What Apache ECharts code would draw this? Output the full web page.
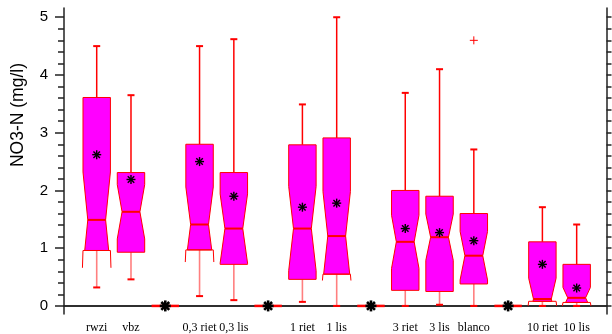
<!DOCTYPE html>
<html>
<head>
<meta charset="utf-8">
<script src="https://cdn.jsdelivr.net/npm/echarts@6/dist/echarts.min.js"></script>
<style>
  html, body { margin: 0; padding: 0; background: #fff; }
  #chart { width: 612px; height: 334px; }
</style>
</head>
<body>
<div id="chart"></div>
<script>
// Group names per slot (empty slots hold the all-zero groups)
const groupLabels = ['rwzi', 'vbz', '', '0,3 riet', '0,3 lis', '', '1 riet', '1 lis', '', '3 riet', '3 lis', 'blanco', '', '10 riet', '10 lis'];
// Box statistics, NO3-N in mg/l
const lowerWhisker = [0.32, 0.46, 0, 0.17, 0.10, 0, 0.07, 0.00, 0, 0.00, 0.02, 0.00, 0, 0.00, 0.00];
const quartile1    = [0.96, 0.93, 0, 0.97, 0.72, 0, 0.46, 0.55, 0, 0.27, 0.25, 0.38, 0, 0.08, 0.06];
const medians      = [1.49, 1.63, 0, 1.41, 1.34, 0, 1.34, 1.21, 0, 1.11, 1.19, 0.87, 0, 0.12, 0.14];
const quartile3    = [3.61, 2.31, 0, 2.80, 2.31, 0, 2.79, 2.91, 0, 2.00, 1.90, 1.60, 0, 1.11, 0.72];
const upperWhisker = [4.50, 3.65, 0, 4.50, 4.62, 0, 3.49, 5.00, 0, 3.69, 4.10, 2.71, 0, 1.71, 1.41];
const means        = [2.62, 2.19, 0, 2.50, 1.90, 0, 1.71, 1.78, 0, 1.34, 1.27, 1.13, 0, 0.72, 0.31];
const notchHalf    = [0.83, 0.47, 0, 0.65, 0.60, 0, 0.73, 0.77, 0, 0.46, 0.40, 0.42, 0, 0.36, 0.18];
// Outliers as [slot, value]
const outliers = [[12, 4.60]];

// Axis ticks
const yMajorTicks = [0, 1, 2, 3, 4, 5];
const yMinorTicks = [0.2, 0.4, 0.6, 0.8, 1.2, 1.4, 1.6, 1.8, 2.2, 2.4, 2.6, 2.8, 3.2, 3.4, 3.6, 3.8, 4.2, 4.4, 4.6, 4.8];
const yAllTicks = yMajorTicks.concat(yMinorTicks);
const xLabelSlots = [1, 2, 4, 5, 7, 8, 10, 11, 12, 14, 15];

const RED = '#ff0000';
const BOX_W = 0.8;        // box width in slot units
const NOTCH_RATIO = 0.65; // waist width relative to box width

const boxData = groupLabels.map((_, i) => [
  i + 1, lowerWhisker[i], quartile1[i], medians[i], quartile3[i], upperWhisker[i], means[i], notchHalf[i]
]);

function seg(x1, y1, x2, y2, color, width) {
  return { type: 'line', shape: { x1, y1, x2, y2 }, style: { stroke: color, lineWidth: width } };
}

function asterisk(cx, cy, r, width) {
  const d = r * 0.72;
  return [
    seg(cx - r, cy, cx + r, cy, '#000', width),
    seg(cx, cy - r, cx, cy + r, '#000', width),
    seg(cx - d, cy - d, cx + d, cy + d, '#000', width),
    seg(cx - d, cy + d, cx + d, cy - d, '#000', width)
  ];
}

function renderBox(params, api) {
  const x = api.value(0);
  const lo = api.value(1), q1 = api.value(2), med = api.value(3);
  const q3 = api.value(4), hi = api.value(5), mean = api.value(6), c = api.value(7);
  const cx = api.coord([x, 0])[0];
  const Y = v => api.coord([x, v])[1];
  const full = api.size([BOX_W, 0])[0] / 2;
  const narrow = full * NOTCH_RATIO;
  const children = [];

  if (q3 - q1 <= 0) {
    // Degenerate group: every value is zero
    children.push(seg(cx - full, Y(med), cx + full, Y(med), RED, 2.5));
    children.push(...asterisk(cx, Y(mean), 5.5, 2.6));
    return { type: 'group', children };
  }

  const hw = v => {
    const d = Math.abs(v - med);
    return d < c ? narrow + (full - narrow) * d / c : full;
  };
  const nt = med + c, nb = med - c;
  const levels = [q3];
  if (nt < q3) levels.push(nt);
  levels.push(med);
  if (nb > q1) levels.push(nb);
  levels.push(q1);
  const pts = levels.map(v => [cx - hw(v), Y(v)])
    .concat(levels.slice().reverse().map(v => [cx + hw(v), Y(v)]));

  // Whiskers
  children.push(seg(cx, Y(q3), cx, Y(hi), RED, 1.5));
  children.push(seg(cx - 3.5, Y(hi), cx + 3.5, Y(hi), RED, 2));
  children.push(seg(cx, Y(q1), cx, Y(lo), 'rgba(255,0,0,0.5)', 1.6));
  children.push(seg(cx - 3.5, Y(lo), cx + 3.5, Y(lo), RED, 2));

  // Notched box
  children.push({
    type: 'polygon',
    shape: { points: pts },
    style: { fill: '#ff00ff', stroke: RED, lineWidth: 1 }
  });

  // Notch ears reaching below the lower quartile
  if (nb < q1) {
    const earEnd = Math.max(nb, lo);
    children.push(seg(cx - full, Y(q1), cx + full, Y(q1), RED, 1));
    children.push(seg(cx - full, Y(q1), cx - full * 1.04, Y(earEnd), RED, 1));
    children.push(seg(cx + full, Y(q1), cx + full * 1.04, Y(earEnd), RED, 1));
  }

  // Median
  children.push(seg(cx - hw(med), Y(med), cx + hw(med), Y(med), RED, 2));
  // Mean
  children.push(...asterisk(cx, Y(mean), 4.5, 1.4));

  return { type: 'group', children };
}

function renderOutlier(params, api) {
  const p = api.coord([api.value(0), api.value(1)]);
  const r = 4;
  return {
    type: 'group',
    children: [
      seg(p[0] - r, p[1], p[0] + r, p[1], RED, 1),
      seg(p[0], p[1] - r, p[0], p[1] + r, RED, 1)
    ]
  };
}

const Y_MIN = -0.14, Y_MAX = 5.16;
const frameLine = { show: true, lineStyle: { color: '#222', width: 1.5 } };

const chart = echarts.init(document.getElementById('chart'), null, { renderer: 'canvas' });
chart.setOption({
  animation: false,
  backgroundColor: '#fff',
  grid: { left: 64, top: 8, width: 542.5, height: 306, containLabel: false },
  xAxis: [
    {
      type: 'value', min: 0.046, max: 15.87, position: 'bottom',
      axisLine: frameLine,
      axisTick: { show: false },
      splitLine: { show: false },
      axisLabel: {
        customValues: xLabelSlots,
        formatter: v => groupLabels[Math.round(v) - 1],
        fontFamily: '"Liberation Serif", "Times New Roman", serif',
        fontSize: 12, color: '#000', margin: 8
      }
    },
    {
      type: 'value', min: 0.046, max: 15.87, position: 'top',
      axisLine: frameLine, axisTick: { show: false }, axisLabel: { show: false }, splitLine: { show: false }
    }
  ],
  yAxis: [
    {
      type: 'value', min: Y_MIN, max: Y_MAX, position: 'left',
      axisLine: frameLine,
      axisTick: { show: true, inside: false, length: 9, customValues: yMajorTicks, lineStyle: { color: '#222', width: 1.5 } },
      axisLabel: {
        customValues: yMajorTicks,
        fontFamily: '"Liberation Sans", Arial, sans-serif',
        fontSize: 15, color: '#000', margin: 16
      },
      splitLine: { show: false }
    },
    {
      type: 'value', min: Y_MIN, max: Y_MAX, position: 'left',
      axisLine: { show: false },
      axisTick: { show: true, inside: false, length: 6, customValues: yMinorTicks, lineStyle: { color: '#222', width: 1.5 } },
      axisLabel: { show: false },
      splitLine: { show: false }
    },
    {
      type: 'value', min: Y_MIN, max: Y_MAX, position: 'right',
      axisLine: frameLine,
      axisTick: { show: true, inside: false, length: 5, customValues: yAllTicks, lineStyle: { color: '#222', width: 1.5 } },
      axisLabel: { show: false },
      splitLine: { show: false }
    }
  ],
  graphic: [
    {
      type: 'text', x: 18, y: 115, rotation: Math.PI / 2,
      style: {
        text: 'NO3-N (mg/l)',
        font: '17.5px "Liberation Sans", Arial, sans-serif',
        fill: '#000', align: 'center', verticalAlign: 'middle'
      }
    }
  ],
  series: [
    {
      type: 'custom', name: 'boxes', xAxisIndex: 0, yAxisIndex: 0,
      renderItem: renderBox, data: boxData, clip: true, z: 2
    },
    {
      type: 'custom', name: 'outliers', xAxisIndex: 0, yAxisIndex: 0,
      renderItem: renderOutlier, data: outliers, clip: true, z: 3
    }
  ]
});
</script>
</body>
</html>
